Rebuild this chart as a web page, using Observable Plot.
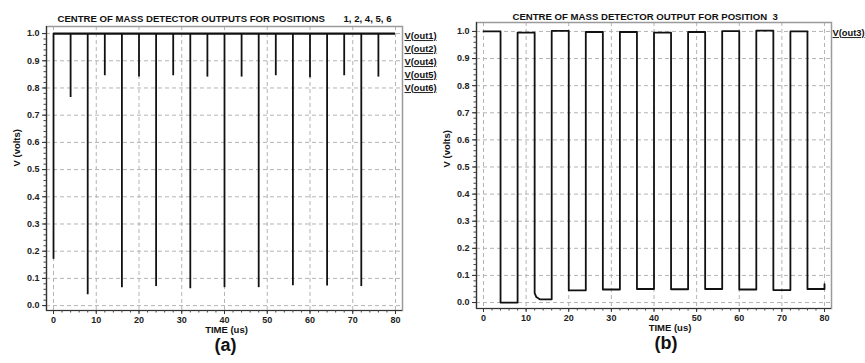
<!DOCTYPE html>
<html>
<head>
<meta charset="utf-8">
<script src="https://cdn.jsdelivr.net/npm/d3@7"></script>
<script src="https://cdn.jsdelivr.net/npm/@observablehq/plot@0.6"></script>
<style>
  html, body { margin: 0; padding: 0; background: #fff; }
  #wrap { position: relative; width: 865px; height: 363px; overflow: hidden; background: #fff; }
  #wrap > svg { position: absolute; top: 0; overflow: visible; }
</style>
</head>
<body>
<div id="wrap"></div>
<script>
// ---------- data ----------
const titleA = "CENTRE OF MASS DETECTOR OUTPUTS FOR POSITIONS";
const titleANums = "1, 2, 4, 5, 6";
const titleB = "CENTRE OF MASS DETECTOR OUTPUT FOR POSITION";
const titleBNums = "3";
const legendA = ["V(out1)", "V(out2)", "V(out4)", "V(out5)", "V(out6)"];
const legendB = ["V(out3)"];
const xLabel = "TIME (us)";
const yLabel = "V (volts)";
const xTicks = [0, 10, 20, 30, 40, 50, 60, 70, 80];
const yTicks = [0.0, 0.1, 0.2, 0.3, 0.4, 0.5, 0.6, 0.7, 0.8, 0.9, 1.0];

// panel (a): spikes from the 1.0 V level
const spikeTimes = [0, 4, 8, 12, 16, 20, 24, 28, 32, 36, 40, 44, 48, 52, 56, 60, 64, 68, 72, 76];
const spikeMins  = [0.17, 0.765, 0.04, 0.845, 0.066, 0.84, 0.07, 0.845, 0.062, 0.84, 0.066, 0.84, 0.066, 0.845, 0.073, 0.838, 0.072, 0.845, 0.07, 0.84];
const highLevelA = 1.0;
const highStartA = 0;
const highEndA = 80;

// panel (b): V(out3) square wave
const out3T = [0, 4, 4, 8, 8, 12, 12, 12.4, 13.2, 16, 16, 20, 20, 24, 24, 28, 28, 32, 32, 36, 36, 40, 40, 44, 44, 48, 48, 52, 52, 56, 56, 60, 60, 64, 64, 68, 68, 72, 72, 76, 76, 80, 80];
const out3V = [1.0, 1.0, 0.0, 0.0, 0.996, 0.996, 0.035, 0.02, 0.012, 0.012, 1.002, 1.002, 0.045, 0.045, 0.998, 0.998, 0.048, 0.048, 0.998, 0.998, 0.05, 0.05, 0.996, 0.996, 0.049, 0.049, 0.998, 0.998, 0.05, 0.05, 1.001, 1.001, 0.048, 0.048, 1.003, 1.003, 0.046, 0.046, 1.0, 1.0, 0.05, 0.05, 0.068];

// ---------- helpers ----------
const FONT = "'Liberation Sans', Arial, sans-serif";
const GRID = {stroke: "#b4b4b4", strokeOpacity: 1, strokeDasharray: "4,3", strokeWidth: 1};
const minorX = d3.range(0, 81, 2);
const minorY = d3.range(0, 51, 1).map(i => i * 0.02);

function panel({width, mL, mR, mT, mB, xDom, yDom, marks}) {
  return Plot.plot({
    width, height: 363,
    marginLeft: mL, marginRight: mR, marginTop: mT, marginBottom: mB,
    x: {domain: xDom, label: null},
    y: {domain: yDom, label: null},
    style: {fontFamily: FONT, fontWeight: "bold", fontSize: "9px", color: "#222", background: "transparent", overflow: "visible"},
    marks: [
      Plot.gridY(yTicks, GRID),
      Plot.gridX(xTicks, GRID),
      Plot.frame({stroke: "#9a9a9a", strokeWidth: 1.5}),
      Plot.ruleX([xDom[0]], {stroke: "#333", strokeWidth: 1.2}),
      Plot.ruleY([yDom[0]], {stroke: "#333", strokeWidth: 1.2}),
      Plot.axisY(minorY, {tickSize: 2.5, tickFormat: () => "", stroke: "#444", label: null}),
      Plot.axisX(minorX, {tickSize: 2.5, tickFormat: () => "", stroke: "#444", label: null}),
      Plot.axisY(yTicks, {tickSize: 4, tickPadding: 3, tickFormat: d => d.toFixed(1), stroke: "#333", fontSize: 9, label: null}),
      Plot.axisX(xTicks, {tickSize: 4, tickPadding: 2, tickFormat: d => String(d), stroke: "#333", fontSize: 9, label: null}),
      ...marks
    ]
  });
}

// ---------- panel (a) ----------
const spikeData = spikeTimes.map((t, i) => ({t, lo: spikeMins[i]}));
const svgA = panel({
  width: 430, mL: 46, mR: 28, mT: 26, mB: 53,
  xDom: [-1.64, 81.64], yDom: [-0.018, 1.026],
  marks: [
    Plot.ruleX(spikeData, {x: "t", y1: "lo", y2: highLevelA, stroke: "#111", strokeWidth: 1.8}),
    Plot.ruleY([highLevelA], {x1: highStartA, x2: highEndA, stroke: "#111", strokeWidth: 2.2}),
    Plot.text([titleA], {frameAnchor: "top-left", textAnchor: "start", dx: 11, dy: -11, fontSize: 9.6, fill: "#111"}),
    Plot.text([titleANums], {frameAnchor: "top-left", textAnchor: "start", dx: 297, dy: -11, fontSize: 9.6, fill: "#111"}),
    ...legendA.map((s, i) => Plot.text([s], {frameAnchor: "top-right", textAnchor: "start", dx: 2, dy: 6 + 13 * i, fontSize: 9.3, fill: "#111"})),
    Plot.text([yLabel], {frameAnchor: "left", rotate: -90, dx: -30, dy: -2, fontSize: 9.5, fill: "#111"}),
    Plot.text([xLabel], {frameAnchor: "bottom", dx: 2, dy: 22, fontSize: 9.5, fill: "#111"}),
    Plot.text(["(a)"], {frameAnchor: "bottom", dx: 1, dy: 40, fontSize: 18, fill: "#111"})
  ]
});
svgA.style.left = "0px";

// ---------- panel (b) ----------
const out3 = out3T.map((t, i) => ({t, v: out3V[i]}));
const svgB = panel({
  width: 435, mL: 46, mR: 34, mT: 22, mB: 55,
  xDom: [-1.64, 81.64], yDom: [-0.022, 1.033],
  marks: [
    Plot.line(out3, {x: "t", y: "v", stroke: "#111", strokeWidth: 1.8}),
    Plot.text([titleB], {frameAnchor: "top-left", textAnchor: "start", dx: 36, dy: -9, fontSize: 9.6, fill: "#111"}),
    Plot.text([titleBNums], {frameAnchor: "top-left", textAnchor: "start", dx: 296, dy: -9, fontSize: 9.6, fill: "#111"}),
    ...legendB.map((s, i) => Plot.text([s], {frameAnchor: "top-right", textAnchor: "start", dx: 1, dy: 7 + 13 * i, fontSize: 9.3, fill: "#111"})),
    Plot.text([yLabel], {frameAnchor: "left", rotate: -90, dx: -30, dy: 2, fontSize: 9.5, fill: "#111"}),
    Plot.text([xLabel], {frameAnchor: "bottom", dx: 16, dy: 22, fontSize: 9.5, fill: "#111"}),
    Plot.text(["(b)"], {frameAnchor: "bottom", dx: 12, dy: 40, fontSize: 18, fill: "#111"})
  ]
});
svgB.style.left = "430px";

const wrap = document.getElementById("wrap");
wrap.appendChild(svgA);
wrap.appendChild(svgB);

// underline legend entries
for (const svg of [svgA, svgB]) {
  d3.select(svg).selectAll("text").filter(function() { return /^V\(out/.test(this.textContent); })
    .style("text-decoration", "underline");
}
</script>
</body>
</html>
